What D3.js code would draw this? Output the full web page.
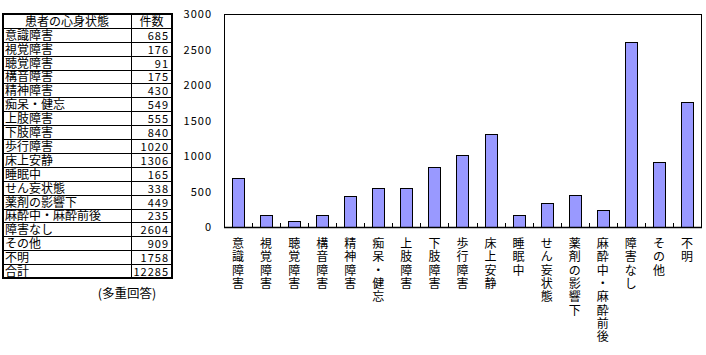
<!DOCTYPE html>
<html>
<head>
<meta charset="utf-8">
<script src="https://cdn.jsdelivr.net/npm/d3@7"></script>
<style>
  body { margin: 0; background: #fff; }
  text { font-family: "Noto Sans CJK JP", sans-serif; }
</style>
</head>
<body>
<script>
// data
var categories = ["意識障害", "視覚障害", "聴覚障害", "構音障害", "精神障害", "痴呆・健忘",
                  "上肢障害", "下肢障害", "歩行障害", "床上安静", "睡眠中", "せん妄状態",
                  "薬剤の影響下", "麻酔中・麻酔前後", "障害なし", "その他", "不明"];
var counts = [685, 176, 91, 175, 430, 549, 555, 840, 1020, 1306, 165, 338, 449, 235, 2604, 909, 1758];
var totalLabel = "合計";
var total = 12285;
var yTicks = [0, 500, 1000, 1500, 2000, 2500, 3000];
var tableHeader = ["患者の心身状態", "件数"];
var note = "(多重回答)";

var W = 706, H = 355;
var svg = d3.select("body").append("svg")
    .attr("width", W)
    .attr("height", H);

// ---- table on the left ----
var tx0 = 3, tx1 = 131, tx2 = 172;
var ty0 = 14, ty1 = 278;
var rows = categories.map(function(c, i) { return [c, counts[i]]; });
rows.push([totalLabel, total]);
var rowH = (ty1 - ty0) / (rows.length + 1);

var tbl = svg.append("g");

// header text
tbl.append("text")
    .attr("x", (tx0 + tx1) / 2)
    .attr("y", ty0 + rowH - 2)
    .attr("text-anchor", "middle")
    .attr("font-size", "12px")
    .text(tableHeader[0]);
tbl.append("text")
    .attr("x", (tx1 + tx2) / 2)
    .attr("y", ty0 + rowH - 2)
    .attr("text-anchor", "middle")
    .attr("font-size", "12px")
    .text(tableHeader[1]);

var rowG = tbl.selectAll("g.row")
    .data(rows)
    .enter()
    .append("g")
    .attr("class", "row");

rowG.append("text")
    .attr("x", tx0 + 2)
    .attr("y", function(d, i) { return ty0 + rowH * (i + 2) - 2; })
    .attr("font-size", "12px")
    .text(function(d) { return d[0]; });

rowG.append("text")
    .attr("x", tx2 - 3)
    .attr("y", function(d, i) { return ty0 + rowH * (i + 2) - 2; })
    .attr("text-anchor", "end")
    .attr("font-size", "11px")
    .attr("letter-spacing", "1px")
    .text(function(d) { return d[1]; });

// row lines
tbl.selectAll("line.rl")
    .data(d3.range(1, rows.length + 1))
    .enter()
    .append("line")
    .attr("x1", tx0).attr("x2", tx2)
    .attr("y1", function(d) { return Math.round(ty0 + rowH * d) + 0.5; })
    .attr("y2", function(d) { return Math.round(ty0 + rowH * d) + 0.5; })
    .attr("stroke", "#000")
    .attr("stroke-width", 1);

tbl.append("line")
    .attr("x1", tx1 + 0.5).attr("x2", tx1 + 0.5)
    .attr("y1", ty0).attr("y2", ty1)
    .attr("stroke", "#000");

tbl.append("rect")
    .attr("x", tx0).attr("y", ty0)
    .attr("width", tx2 - tx0).attr("height", ty1 - ty0)
    .attr("fill", "none")
    .attr("stroke", "#000")
    .attr("stroke-width", 2);

svg.append("text")
    .attr("x", 127)
    .attr("y", 298)
    .attr("text-anchor", "middle")
    .attr("font-size", "12.5px")
    .text(note);

// ---- bar chart ----
var px0 = 224, px1 = 701, py0 = 14, py1 = 227;

var x = d3.scaleBand()
    .domain(categories)
    .range([px0, px1])
    .paddingInner(0.57)
    .paddingOuter(0.285);

var y = d3.scaleLinear()
    .domain([0, 3000])
    .range([py1, py0]);

svg.append("rect")
    .attr("x", px0 + 0.5).attr("y", py0 + 0.5)
    .attr("width", px1 - px0).attr("height", py1 - py0)
    .attr("fill", "none")
    .attr("stroke", "#000")
    .attr("stroke-width", 1);

svg.selectAll("rect.bar")
    .data(counts)
    .enter()
    .append("rect")
    .attr("class", "bar")
    .attr("x", function(d, i) { return Math.round(x(categories[i])) + 0.5; })
    .attr("y", function(d) { return Math.round(y(d)) + 0.5; })
    .attr("width", Math.round(x.bandwidth()))
    .attr("height", function(d) { return py1 - Math.round(y(d)); })
    .attr("fill", "#9999ff")
    .attr("stroke", "#000")
    .attr("stroke-width", 1);

// y axis labels
var yAxis = d3.axisLeft(y)
    .tickValues(yTicks)
    .tickFormat(d3.format("d"))
    .tickSize(0)
    .tickPadding(12);
var yg = svg.append("g")
    .attr("transform", "translate(" + px0 + ",0)")
    .call(yAxis);
yg.select(".domain").remove();
yg.selectAll("text")
    .attr("font-family", "\"Noto Sans CJK JP\", sans-serif")
    .attr("font-size", "11px")
    .attr("letter-spacing", "1px")
    .attr("fill", "#000");

// x axis line + inward ticks at category boundaries
var step = (px1 - px0) / categories.length;
svg.append("line")
    .attr("x1", px0).attr("x2", px1 + 1)
    .attr("y1", py1 + 0.5).attr("y2", py1 + 0.5)
    .attr("stroke", "#000")
    .attr("stroke-width", 1.5);
svg.selectAll("line.xt")
    .data(d3.range(1, categories.length))
    .enter()
    .append("line")
    .attr("x1", function(d) { return Math.round(px0 + d * step) + 0.5; })
    .attr("x2", function(d) { return Math.round(px0 + d * step) + 0.5; })
    .attr("y1", py1 - 4).attr("y2", py1)
    .attr("stroke", "#000");

// vertical category labels, one char per line
var lab = svg.selectAll("text.xl")
    .data(categories)
    .enter()
    .append("text")
    .attr("class", "xl")
    .attr("font-size", "12px")
    .attr("text-anchor", "middle");
lab.each(function(d) {
    var t = d3.select(this);
    var cx = x(d) + x.bandwidth() / 2;
    Array.from(d).forEach(function(ch, k) {
        t.append("tspan")
            .attr("x", cx)
            .attr("y", 248 + k * 13.3)
            .text(ch);
    });
});
</script>
</body>
</html>
